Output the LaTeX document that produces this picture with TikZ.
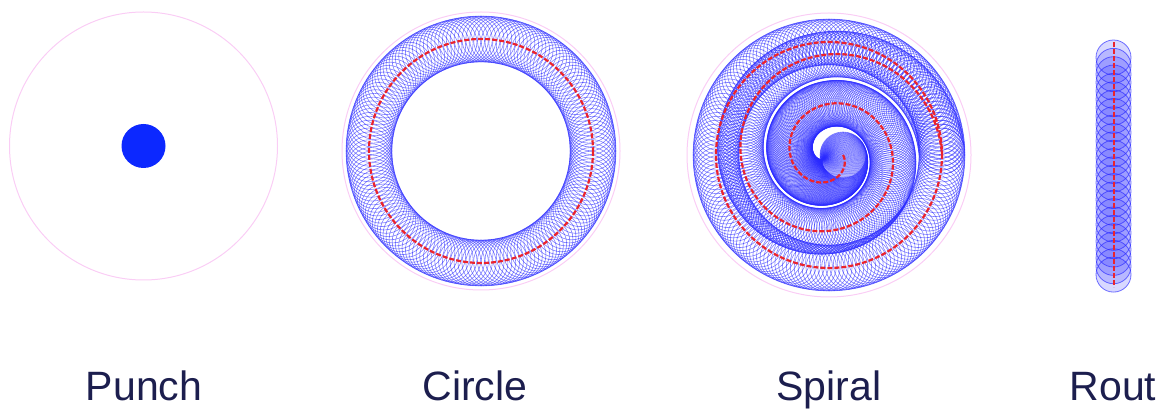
\documentclass[tikz,border=0pt]{standalone}
\usepackage{fontspec}
\setmainfont{Liberation Sans}
\usetikzlibrary{calc}
\definecolor{tinta}{RGB}{28,30,78}
\definecolor{rosa}{RGB}{250,205,245}
\definecolor{herr}{RGB}{40,40,255}
\definecolor{punz}{RGB}{12,40,255}
\definecolor{ruta}{RGB}{235,35,45}
\tikzset{
  borde/.style={draw=rosa, line width=1pt, opacity=1},
  herram/.style={draw=herr, draw opacity=0.6, line width=0.6pt},
  herrf/.style={draw=herr, draw opacity=0.65, fill=herr, fill opacity=0.18, line width=0.8pt},
  tray/.style={draw=ruta, opacity=1, line width=2.2pt, dash pattern=on 5pt off 2pt},
  rot/.style={font=\fontsize{41}{48}\selectfont, text=tinta, opacity=1, anchor=base, inner sep=0pt},
}

\begin{document}
\begin{tikzpicture}[x=1pt, y=-1pt]
  \useasboundingbox (0,0) rectangle (1164,411);
  \coordinate (cpun) at (143.5,146);
  \coordinate (ccir) at (481,151);
  \coordinate (cesp) at (829,155);
  \coordinate (rsup) at (1113.5,42);
  \coordinate (rinf) at (1113.5,287);
  % punch
  \draw[borde] (cpun) circle[radius=134];
  \fill[punz] (cpun) circle[radius=22];
  % circle
  \draw[borde] (ccir) circle[radius=139];
  \foreach \a in {0,2,...,358}
    \draw[herram] ($(ccir)+(\a:112)$) circle[radius=23];
  \draw[tray] (ccir) circle[radius=112];
  % spiral
  \draw[borde] (cesp) circle[radius=142];
  \foreach \a in {0,2,...,1078}{
    \pgfmathsetmacro\r{min(14+0.1375*\a,113)}
    \draw[herram] ($(cesp)+(\a:\r)$) circle[radius=23];
  }
  \begin{scope}[shift={(cesp)}]
    \draw[tray] plot[domain=0:1080, samples=400, smooth] (\x:{min(14+0.1375*\x,113)});
  \end{scope}
  % rout
  \foreach \i in {0,...,26}
    \draw[herrf] ($(rsup)+(0,15.5+\i*8.35)$) circle[radius=17.5];
  \draw[tray, line width=2pt] (rsup) -- (rinf);
  % labels
  \node[rot] (lpun) at (144,400) {Punch};
  \node[rot] (lcir) at (475,400) {Circle};
  \node[rot] (lesp) at (829,400) {Spiral};
  \node[rot] (lrut) at (1113,400) {Rout};
\end{tikzpicture}
\end{document}
